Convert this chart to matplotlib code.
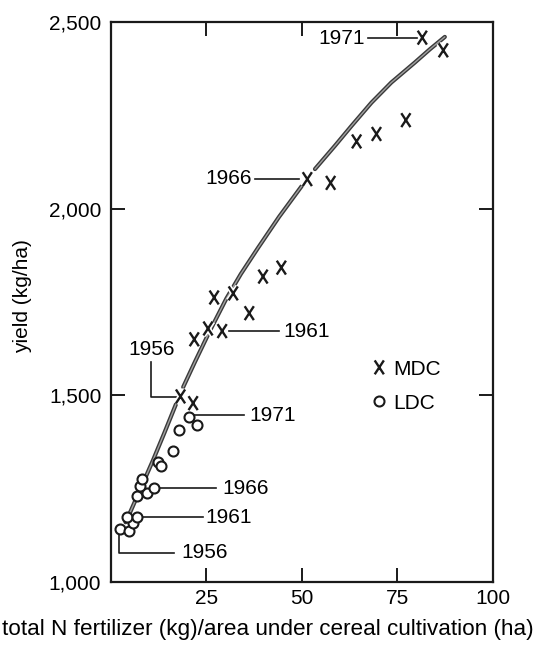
import matplotlib
matplotlib.use('Agg')
import matplotlib.pyplot as plt
import matplotlib.patheffects as pe
from matplotlib.path import Path
import numpy as np

FONT = 'Liberation Sans'
FS = 15

# ── data ─────────────────────────────────────────────────────────────────────
mdc_x = [18.2, 21.5, 21.8, 25.4, 29.1, 27.0, 32.0, 36.2, 39.8, 44.6,
         51.4, 57.5, 64.3, 69.5, 77.2, 81.5, 87.0]
mdc_y = [1497, 1479, 1650, 1679, 1672, 1762, 1773, 1720, 1818, 1842,
         2079, 2069, 2180, 2200, 2237, 2458, 2424]

ldc_x = [2.3, 4.8, 5.8, 4.1, 6.9, 6.9, 9.5, 7.5, 11.2, 8.2,
         12.4, 13.0, 16.3, 17.8, 20.4, 22.6]
ldc_y = [1141, 1136, 1157, 1175, 1175, 1231, 1239, 1257, 1252, 1277,
         1322, 1310, 1351, 1408, 1442, 1420]

# fitted curve, read as points along the drawn line (NaN = break in the line)
curve_x = [3.8, 4.9, 8.0, 11.0, 14.0, 17.0, np.nan, 18.9, 22.0, 26.0,
           30.2, 34.0, 38.5, 44.0, 49.9, np.nan, 53.4, 58.6, 63.0, 68.2,
           73.4, 79.5, 83.5, 87.4]
curve_y = [1160, 1184, 1256, 1326, 1400, 1476, np.nan, 1522, 1590, 1675,
           1759, 1825, 1895, 1978, 2060, np.nan, 2106, 2168, 2222, 2284,
           2338, 2391, 2427, 2460]

x_ticks = [25, 50, 75, 100]
y_ticks = [1000, 1500, 2000, 2500]
y_ticklabels = ['1,000', '1,500', '2,000', '2,500']

# year labels: (text, text x, text y, ha, leader line xs, leader line ys)
year_notes = [
    ('1971', 66.4, 2457, 'right', [67.4, 80.0], [2457, 2457]),
    ('1966', 36.8, 2080, 'right', [37.6, 49.3], [2080, 2080]),
    ('1961', 45.2, 1671, 'left',  [31.0, 44.1], [1671, 1671]),
    ('1971', 36.3, 1446, 'left',  [21.6, 34.9], [1446, 1446]),
    ('1966', 29.2, 1251, 'left',  [11.9, 27.4], [1251, 1251]),
    ('1961', 24.7, 1174, 'left',  [8.0, 24.2],  [1174, 1174]),
    ('1956', 18.5, 1078, 'left',  [2.0, 2.0, 16.6], [1131, 1078, 1078]),
    ('1956', 10.6, 1622, 'center', [10.6, 10.6, 17.1], [1588, 1495, 1495]),
]

# lowercase-x style marker, a bit taller than wide
X_MARK = Path([(-0.33, -0.5), (0.33, 0.5), (-0.33, 0.5), (0.33, -0.5)],
              [Path.MOVETO, Path.LINETO, Path.MOVETO, Path.LINETO])


def main():
    plt.rcParams['font.family'] = [FONT, 'DejaVu Sans']
    fig = plt.figure(figsize=(5.37, 6.48), dpi=100)
    ax = fig.add_axes([0.2067, 0.1019, 0.7113, 0.8642])

    # curve: dark outline with lighter core
    ax.plot(curve_x, curve_y, color='#3a3a3a', lw=3.0,
            solid_capstyle='round', zorder=2)
    ax.plot(curve_x, curve_y, color='#a0a0a0', lw=1.0,
            solid_capstyle='round', zorder=2.1)

    halo = [pe.withStroke(linewidth=4.0, foreground='white')]
    ax.plot(mdc_x, mdc_y, ls='none', marker=X_MARK, ms=10, mew=1.7,
            color='#1a1a1a', label='MDC', zorder=3, path_effects=halo)
    ax.plot(ldc_x, ldc_y, ls='none', marker='o', ms=7.2, mew=1.5,
            mfc='white', mec='#1a1a1a', label='LDC', zorder=3)

    for txt, tx, ty, ha, lx, ly in year_notes:
        ax.plot(lx, ly, color='#1a1a1a', lw=1.2, zorder=2.5)
        ax.text(tx, ty, txt, ha=ha, va='center', fontsize=FS)

    ax.legend(loc='upper left', bbox_to_anchor=(0.686, 0.397),
              frameon=False, fontsize=FS, handlelength=0.6,
              handletextpad=0.35, labelspacing=0.72, borderpad=0,
              borderaxespad=0)

    ax.set_xlim(0, 100)
    ax.set_ylim(1000, 2500)
    ax.set_xticks(x_ticks)
    ax.set_xticklabels([str(t) for t in x_ticks])
    ax.set_yticks(y_ticks)
    ax.set_yticklabels(y_ticklabels)
    ax.tick_params(direction='in', length=10, width=1.4, labelsize=FS,
                   top=True, right=True, color='#1a1a1a')
    ax.tick_params(axis='x', pad=5)
    ax.tick_params(axis='y', pad=7)
    for s in ax.spines.values():
        s.set_linewidth(1.6)
        s.set_color('#1a1a1a')

    ax.set_ylabel('yield (kg/ha)', fontsize=FS)
    ax.yaxis.set_label_coords(-0.207, 0.51)
    ax.set_xlabel('total N fertilizer (kg)/area under cereal cultivation (ha)',
                  fontsize=16.2)
    ax.xaxis.set_label_coords(0.411, -0.066)

    fig.savefig('out.png', dpi=100)
    plt.close(fig)


if __name__ == "__main__":
    main()
